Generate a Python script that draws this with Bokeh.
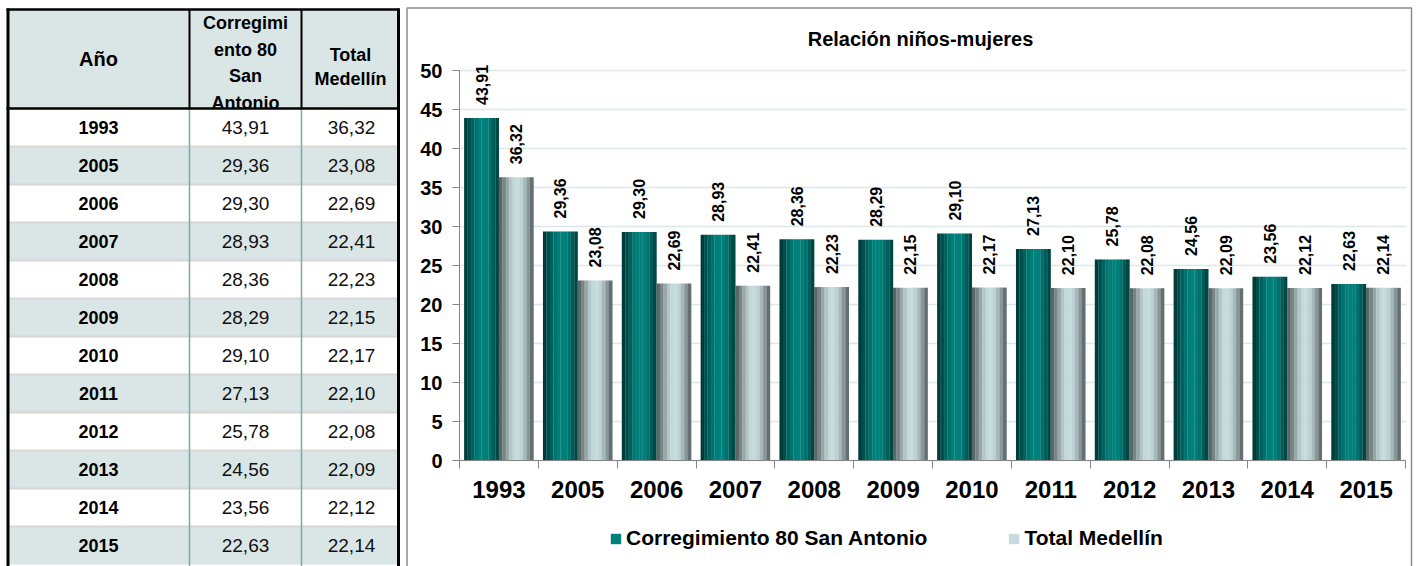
import math
from bokeh.plotting import figure
from bokeh.models import (ColumnDataSource, Range1d, FixedTicker, Legend, LegendItem,
                          LabelSet)
from bokeh.embed import file_html
from bokeh.resources import INLINE
from bokeh.core.properties import value

# ---------------- data ----------------
years = ["1993", "2005", "2006", "2007", "2008", "2009", "2010",
         "2011", "2012", "2013", "2014", "2015"]
san_antonio = [43.91, 29.36, 29.30, 28.93, 28.36, 28.29, 29.10,
               27.13, 25.78, 24.56, 23.56, 22.63]
medellin = [36.32, 23.08, 22.69, 22.41, 22.23, 22.15, 22.17,
            22.10, 22.08, 22.09, 22.12, 22.14]
series_names = ["Corregimiento 80 San Antonio", "Total Medellín"]
chart_title = "Relación niños-mujeres"
y_ticks = [0, 5, 10, 15, 20, 25, 30, 35, 40, 45, 50]
y_max = 50
header_col1 = "Año"
header_col2 = ["Corregimi", "ento 80", "San", "Antonio"]
header_col3 = ["Total", "Medellín"]

FONT = "Liberation Sans"


def fmt(v):
    return f"{v:.2f}".replace(".", ",")


n = len(years)

# ---------------- canvas geometry (pixels) ----------------
W, H = 1421, 566
CH_L, CH_R = 459, 1405      # chart plot area, canvas x
CH_T, CH_B = 70, 460        # chart plot area, canvas y
px_x = (CH_R - CH_L) / n
px_y = (CH_B - CH_T) / y_max

p = figure(width=W, height=H,
           x_range=Range1d(-CH_L / px_x, n + (W - CH_R) / px_x),
           y_range=Range1d(-(H - CH_B) / px_y, y_max + CH_T / px_y),
           output_backend="svg", toolbar_location=None,
           min_border_left=0, min_border_right=0, min_border_top=0,
           min_border_bottom=0)
p.outline_line_color = None
p.background_fill_color = "white"
p.border_fill_color = "white"
# pixel coordinate system (canvas coordinates, y downwards) for table & frames
p.extra_x_ranges = {"tab": Range1d(0, W)}
p.extra_y_ranges = {"tab": Range1d(H, 0)}
TAB = dict(x_range_name="tab", y_range_name="tab")

p.xgrid.visible = False
p.ygrid.ticker = FixedTicker(ticks=y_ticks)
p.ygrid.grid_line_color = "#DCE7E7"
p.ygrid.grid_line_width = 1.5


def texts(xs, ys, t, size, bold=True, color="black"):
    p.text(x=xs, y=ys, text=t, text_font=value(FONT), text_font_size=size,
           text_font_style="bold" if bold else "normal", text_color=color,
           text_align="center", text_baseline="middle", **TAB)


# ---------------- table ----------------
TL, TR, TT = 7, 399, 9
head_b = 108
row_h = 38
c1, c2 = 189, 301
shade = "#DAE6E6"

row_tops = [head_b + i * row_h for i in range(n)]
row_cols = [shade if i % 2 == 1 else "white" for i in range(n)]
p.quad(left=[TL], right=[TR], top=[TT], bottom=[head_b], fill_color=shade,
       line_color=None, **TAB)
p.quad(left=[TL] * n, right=[TR] * n, top=row_tops,
       bottom=[r + row_h for r in row_tops], fill_color=row_cols, line_color=None, **TAB)
# masks so that chart grid lines stay inside the chart plot area
p.quad(left=[0, TR, CH_R + 0.8], right=[TL, CH_L - 0.5, W], top=[0, 0, 0],
       bottom=[H, H, H], fill_color="white", line_color=None, **TAB)
p.segment(x0=[TL] * (n - 1), x1=[TR] * (n - 1), y0=row_tops[1:], y1=row_tops[1:],
          line_color="#D6D6D6", line_width=2, **TAB)
p.segment(x0=[c1, c2], x1=[c1, c2], y0=[head_b] * 2, y1=[H] * 2,
          line_color="#7FA8AD", line_width=1.5, **TAB)
p.segment(x0=[c1, c2], x1=[c1, c2], y0=[TT] * 2, y1=[head_b] * 2,
          line_color="black", line_width=2, **TAB)

texts([(TL + c1) / 2], [58], [header_col1], "20px")
texts([(c1 + c2) / 2] * 4, [22, 49, 75, 102], header_col2, "18px")
texts([(c2 + TR) / 2] * 2, [54, 78], header_col3, "18px")

row_mid = [r + row_h / 2 for r in row_tops]
texts([98] * n, row_mid, years, "18px")
texts([245] * n, row_mid, [fmt(v) for v in san_antonio], "19px", bold=False, color="#111111")
texts([351] * n, row_mid, [fmt(v) for v in medellin], "19px", bold=False, color="#111111")

# table borders
p.segment(x0=[TL + 0.5, TR - 1], x1=[TL + 0.5, TR - 1], y0=[TT - 1, TT - 1], y1=[H, H],
          line_color="black", line_width=3, **TAB)
p.segment(x0=[TL - 1, TL - 1], x1=[TR, TR], y0=[TT, head_b], y1=[TT, head_b],
          line_color="black", line_width=2.5, **TAB)

# chart outer border
p.quad(left=[406.5], right=[1411], top=[7.5], bottom=[H + 2], fill_alpha=0,
       line_color="#8C8C8C", line_width=1.5, **TAB)

# chart title
p.text(x=[920], y=[38], text=[chart_title], text_font=value(FONT),
       text_font_size="20px", text_font_style="bold", text_color="black",
       text_align="center", text_baseline="middle", **TAB)

# ---------------- bars ----------------
bar_w = 0.44
green_cols = ["#003C3A", "#004F4C", "#00625E", "#00736D", "#007E78",
              "#00817B", "#007E78", "#00716C", "#005C58", "#004845"]
grey_cols = ["#5A6767", "#778585", "#98A8A8", "#B2C6C6", "#C3D8D9",
             "#C6DBDC", "#BDD1D2", "#A6B8B9", "#879697", "#636F70"]
ns = len(green_cols)
sw = bar_w / ns

legend_renderers = []
for vals, cols, side in ((san_antonio, green_cols, -1), (medellin, grey_cols, 1)):
    bar_left = [i + 0.5 + (side - 1) * bar_w / 2 for i in range(n)]
    mid_r = None
    for k, col in enumerate(cols):
        src = ColumnDataSource(dict(x=[b + (k + 0.5) * sw for b in bar_left], top=vals))
        r = p.vbar(x="x", top="top", bottom=0, width=sw * 1.06, source=src,
                   fill_color=col, line_color=None)
        if k == ns // 2:
            mid_r = r
    legend_renderers.append(mid_r)

for vals, side in ((san_antonio, -1), (medellin, 1)):
    xs = [i + 0.5 + side * bar_w / 2 for i in range(n)]
    src = ColumnDataSource(dict(x=xs, y=vals, t=[fmt(v) for v in vals]))
    p.add_layout(LabelSet(x="x", y="y", text="t", source=src, angle=math.pi / 2,
                          text_align="left", text_baseline="middle", y_offset=13,
                          text_font=value(FONT), text_font_size=value("16px"),
                          text_font_style="bold", text_color="black"))

# ---------------- axes ----------------
axis_col = "#868686"
yax = p.yaxis[0]
yax.fixed_location = 0
yax.bounds = (0, y_max)
yax.ticker = FixedTicker(ticks=y_ticks)
yax.axis_line_color = axis_col
yax.major_tick_line_color = axis_col
yax.major_tick_out = 7
yax.major_tick_in = 0
yax.minor_tick_line_color = None
yax.major_label_standoff = 10
yax.major_label_text_font = FONT
yax.major_label_text_font_size = "20px"
yax.major_label_text_font_style = "bold"
yax.major_label_text_color = "black"

xax = p.xaxis[0]
xax.fixed_location = 0
xax.bounds = (0, n)
centers = [i + 0.5 for i in range(n)]
xax.ticker = FixedTicker(ticks=centers, minor_ticks=list(range(n + 1)))
xax.major_label_overrides = {c: y for c, y in zip(centers, years)}
xax.axis_line_color = axis_col
xax.major_tick_line_color = None
xax.major_tick_out = 8
xax.major_tick_in = 0
xax.minor_tick_line_color = axis_col
xax.minor_tick_out = 8
xax.minor_tick_in = 0
xax.major_label_standoff = 12
xax.major_label_text_font = FONT
xax.major_label_text_font_size = "24px"
xax.major_label_text_font_style = "bold"
xax.major_label_text_color = "black"

legend = Legend(items=[LegendItem(label=series_names[0], renderers=[legend_renderers[0]]),
                       LegendItem(label=series_names[1], renderers=[legend_renderers[1]])],
                orientation="horizontal", location=(609, 16),
                label_text_font=FONT, label_text_font_size="21px",
                label_text_font_style="bold", label_text_color="black",
                glyph_width=13, glyph_height=13, spacing=80, padding=0,
                margin=0, border_line_color=None, background_fill_alpha=0,
                label_standoff=4)
p.add_layout(legend)

open("out.html", "w").write(file_html(p, INLINE))
